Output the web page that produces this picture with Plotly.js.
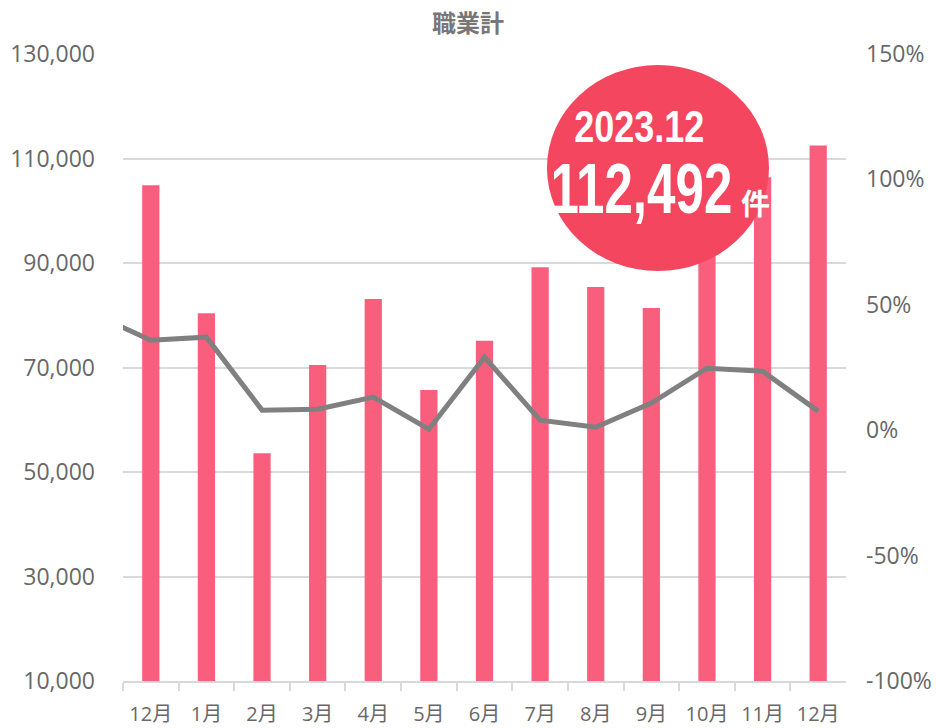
<!DOCTYPE html>
<html>
<head>
<meta charset="utf-8">
<script src="https://cdn.plot.ly/plotly-3.0.1.min.js"></script>
<style>html,body{margin:0;padding:0;background:#fff;}#chart{width:936px;height:728px;}</style>
</head>
<body>
<div id="chart"></div>
<script>
// ---- data ----
const months = ["12月","1月","2月","3月","4月","5月","6月","7月","8月","9月","10月","11月","12月"];
const counts = [104900, 80400, 53600, 70500, 83100, 65700, 75100, 89200, 85400, 81400, 95000, 106400, 112492];
// year-over-year change (%), first value is the month before the window (drawn clipped at the left edge)
const prevChange = 46;
const changes = [35.9, 37.1, 8.0, 8.4, 13.2, 0.4, 29.1, 4.0, 1.2, 10.8, 24.7, 23.5, 7.6];
const leftTicks = [10000, 30000, 50000, 70000, 90000, 110000, 130000];
const leftTickText = ["10,000","30,000","50,000","70,000","90,000","110,000","130,000"];
const rightTicks = [-100, -50, 0, 50, 100, 150];
const rightTickText = ["-100%","-50%","0%","50%","100%","150%"];
const badgeDate = "2023.12";
const badgeValue = "112,492";
const badgeUnit = "件";
const titleText = "職業計";

const idx = months.map((m, i) => i);
const lineX = [-1].concat(idx);
const lineY = [prevChange].concat(changes);

const tickFont = {family: "Open Sans, Noto Sans CJK JP, sans-serif", size: 23, color: "#686868"};

const traces = [
  {
    type: "bar", x: idx, y: counts, xaxis: "x", yaxis: "y",
    marker: {color: "#F95F7C"}, width: 0.31, hoverinfo: "y"
  },
  {
    type: "scatter", mode: "lines", x: lineX, y: lineY, xaxis: "x", yaxis: "y2",
    line: {color: "#808080", width: 5}, hoverinfo: "y"
  }
];

const layout = {
  width: 936, height: 728,
  margin: {l: 123, r: 90, t: 54, b: 47},
  paper_bgcolor: "#ffffff", plot_bgcolor: "#ffffff",
  showlegend: false,
  title: {
    text: "<b>" + titleText + "</b>",
    font: {family: "Noto Sans CJK JP, sans-serif", size: 24, color: "#777777"},
    x: 0.5, xanchor: "center", y: 0.967, yanchor: "middle"
  },
  xaxis: {
    range: [-0.5, 12.5],
    tickvals: idx, ticktext: months,
    showgrid: false, zeroline: false,
    showline: true, linecolor: "#d9d9d9", linewidth: 2,
    ticks: "", tickfont: {family: "Open Sans, Noto Sans CJK JP, sans-serif", size: 20, color: "#686868"},
    ticklabelstandoff: 14,
    minor: {tickvals: idx.concat([12]).map(v => v - 0.5), ticks: "outside", ticklen: 8, tickcolor: "#d9d9d9", tickwidth: 2, showgrid: false},
    fixedrange: true
  },
  yaxis: {
    range: [10000, 130000],
    tickvals: leftTicks, ticktext: leftTickText,
    showgrid: true, gridcolor: "#d9d9d9", gridwidth: 2,
    zeroline: false, showline: false, ticks: "",
    tickfont: tickFont, ticklabelstandoff: 27,
    fixedrange: true
  },
  yaxis2: {
    range: [-100, 150], overlaying: "y", side: "right",
    tickvals: rightTicks, ticktext: rightTickText,
    showgrid: false, zeroline: false, showline: false, ticks: "",
    tickfont: tickFont, ticklabelstandoff: 19,
    fixedrange: true
  },
  shapes: [{
    type: "circle", xref: "paper", yref: "paper",
    x0: 0.5864, x1: 0.8935, y0: 0.6539, y1: 0.9825,
    fillcolor: "#F4465E", line: {width: 0}, layer: "above"
  }],
  annotations: [
    {
      xref: "paper", yref: "paper", x: 0.715, y: 0.885, xanchor: "center", yanchor: "middle",
      text: "<b>" + badgeDate + "</b>", showarrow: false,
      font: {family: "Liberation Sans, Arial, sans-serif", size: 45, color: "#ffffff"}
    },
    {
      xref: "paper", yref: "paper", x: 0.7178, y: 0.7847, xanchor: "center", yanchor: "middle",
      text: "<b>" + badgeValue + "</b>", showarrow: false,
      font: {family: "Liberation Sans, Arial, sans-serif", size: 71, color: "#ffffff"}
    },
    {
      xref: "paper", yref: "paper", x: 0.8755, y: 0.764, xanchor: "center", yanchor: "middle",
      text: "<b>" + badgeUnit + "</b>", showarrow: false,
      font: {family: "Noto Sans CJK JP, sans-serif", size: 29, color: "#ffffff"}
    }
  ]
};

// horizontal condensing of the badge digits (narrow display face look)
const condense = [0.8, 0.72, 1.0];

Plotly.newPlot("chart", traces, layout, {displayModeBar: false, staticPlot: true}).then(function (gd) {
  const texts = gd.querySelectorAll(".annotation-text");
  texts.forEach(function (el, i) {
    const sx = condense[i];
    if (!sx || sx === 1) return;
    const bb = el.getBBox();
    const cx = bb.x + bb.width / 2, cy = bb.y + bb.height / 2;
    const prev = el.getAttribute("transform") || "";
    el.setAttribute("transform", prev + " translate(" + cx + "," + cy + ") scale(" + sx + ",1) translate(" + (-cx) + "," + (-cy) + ")");
  });
});
</script>
</body>
</html>
